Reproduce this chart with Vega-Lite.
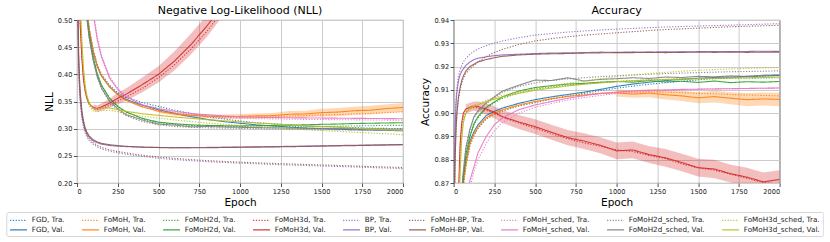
{
"$schema": "https://vega.github.io/schema/vega-lite/v6.json",
"padding": {"left": 5, "top": 4, "right": 0, "bottom": 0},
"spacing": 15.6,
"config": {
  "font": "DejaVu Sans",
  "view": {"stroke": "#262626", "strokeWidth": 0.9},
  "axis": {"domain": false, "grid": true, "gridColor": "#cbcbcb", "gridWidth": 1, "tickColor": "#262626", "tickSize": 3.5, "tickWidth": 0.8, "labelFont": "DejaVu Sans", "labelFontSize": 6.6, "labelColor": "#1a1a1a", "labelPadding": 1.5, "titleFont": "DejaVu Sans", "titleFontSize": 10.5, "titleFontWeight": "normal", "titleColor": "#000", "titlePadding": 3},
  "title": {"font": "DejaVu Sans", "fontSize": 11, "fontWeight": "normal", "offset": 1, "color": "#000"},
  "legend": {"labelFont": "DejaVu Sans", "labelFontSize": 7.2, "labelColor": "#1a1a1a", "symbolType": "M-1,0H3", "symbolSize": 72, "symbolStrokeWidth": 1.2, "labelOffset": 12.5, "columnPadding": 14, "rowPadding": 0.8, "padding": 3, "strokeColor": "#d5d5d5", "cornerRadius": 2, "fillColor": "#ffffff", "orient": "none", "direction": "horizontal", "columns": 9, "legendX": -70.7, "legendY": 192}
},
"resolve": {"scale": {"color": "shared", "strokeDash": "shared"}},
"hconcat": [
{
  "width": 326, "height": 163,
  "title": "Negative Log-Likelihood (NLL)",
  "data": {"values": [
{"ep":0,"aT":1.2,"aV":1.2,"bT":1.2,"bV":1.2,"cT":1.2,"cV":1.2,"dT":1.0,"dV":1.0,"eT":0.9,"eV":0.9,"fT":0.95,"fV":0.95,"gT":1.3,"gV":1.3,"hT":1.2,"hV":1.2,"iT":1.0,"iV":1.0},
{"ep":5,"aT":1.05,"aV":1.05,"bT":1.05,"bV":1.05,"cT":1.05,"cV":1.05,"dT":0.8,"dV":0.8,"eT":0.5,"eV":0.51,"fT":0.54,"fV":0.55,"gT":1.2,"gV":1.2,"hT":1.05,"hV":1.05,"iT":0.85,"iV":0.85},
{"ep":10,"aT":0.95,"aV":0.95,"bT":0.95,"bV":0.95,"cT":0.94,"cV":0.94,"dT":0.65,"dV":0.65,"eT":0.41,"eV":0.42,"fT":0.43,"fV":0.44,"gT":1.1,"gV":1.1,"hT":0.94,"hV":0.94,"iT":0.7,"iV":0.7},
{"ep":15,"aT":0.87,"aV":0.87,"bT":0.87,"bV":0.87,"cT":0.86,"cV":0.86,"dT":0.55,"dV":0.55,"eT":0.37,"eV":0.38,"fT":0.385,"fV":0.395,"gT":1.02,"gV":1.02,"hT":0.86,"hV":0.86,"iT":0.6,"iV":0.6},
{"ep":20,"aT":0.8,"aV":0.8,"bT":0.8,"bV":0.8,"cT":0.79,"cV":0.79,"dT":0.49,"dV":0.49,"eT":0.345,"eV":0.355,"fT":0.357,"fV":0.367,"gT":0.95,"gV":0.95,"hT":0.79,"hV":0.79,"iT":0.53,"iV":0.53},
{"ep":30,"aT":0.69,"aV":0.69,"bT":0.69,"bV":0.69,"cT":0.68,"cV":0.68,"dT":0.43,"dV":0.43,"eT":0.318,"eV":0.325,"fT":0.326,"fV":0.333,"gT":0.85,"gV":0.85,"hT":0.68,"hV":0.68,"iT":0.455,"iV":0.46},
{"ep":40,"aT":0.61,"aV":0.61,"bT":0.61,"bV":0.61,"cT":0.6,"cV":0.6,"dT":0.39,"dV":0.39,"eT":0.303,"eV":0.309,"fT":0.309,"fV":0.314,"gT":0.77,"gV":0.77,"hT":0.6,"hV":0.6,"iT":0.405,"iV":0.41},
{"ep":50,"aT":0.555,"aV":0.55,"bT":0.555,"bV":0.555,"cT":0.545,"cV":0.545,"dT":0.368,"dV":0.37,"eT":0.292,"eV":0.298,"fT":0.297,"fV":0.302,"gT":0.7,"gV":0.7,"hT":0.54,"hV":0.54,"iT":0.375,"iV":0.38},
{"ep":60,"aT":0.52,"aV":0.515,"bT":0.52,"bV":0.52,"cT":0.51,"cV":0.51,"dT":0.355,"dV":0.357,"eT":0.285,"eV":0.291,"fT":0.289,"fV":0.294,"gT":0.645,"gV":0.645,"hT":0.505,"hV":0.505,"iT":0.357,"iV":0.362},
{"ep":75,"aT":0.485,"aV":0.48,"bT":0.483,"bV":0.483,"cT":0.472,"cV":0.472,"dT":0.344,"dV":0.346,"eT":0.278,"eV":0.284,"fT":0.281,"fV":0.2865,"gT":0.585,"gV":0.585,"hT":0.467,"hV":0.467,"iT":0.342,"iV":0.347},
{"ep":100,"aT":0.445,"aV":0.44,"bT":0.442,"bV":0.442,"cT":0.43,"cV":0.43,"dT":0.337,"dV":0.339,"eT":0.271,"eV":0.2775,"fT":0.274,"fV":0.2795,"gT":0.515,"gV":0.51,"hT":0.425,"hV":0.425,"iT":0.332,"iV":0.337,"rl":0.334,"rh":0.344},
{"ep":125,"aT":0.418,"aV":0.414,"bT":0.415,"bV":0.415,"cT":0.4,"cV":0.4,"dT":0.335,"dV":0.337,"eT":0.2665,"eV":0.274,"fT":0.269,"fV":0.2755,"gT":0.468,"gV":0.463,"hT":0.395,"hV":0.395,"iT":0.331,"iV":0.336,"rl":0.331,"rh":0.343},
{"ep":150,"aT":0.4,"aV":0.397,"bT":0.398,"bV":0.398,"cT":0.38,"cV":0.38,"dT":0.337,"dV":0.34,"eT":0.263,"eV":0.2715,"fT":0.2655,"fV":0.273,"gT":0.436,"gV":0.432,"hT":0.374,"hV":0.375,"iT":0.333,"iV":0.338,"rl":0.333,"rh":0.347},
{"ep":200,"aT":0.38,"aV":0.377,"bT":0.377,"bV":0.377,"cT":0.356,"cV":0.356,"dT":0.343,"dV":0.347,"eT":0.2585,"eV":0.269,"fT":0.261,"fV":0.2705,"gT":0.396,"gV":0.393,"hT":0.349,"hV":0.351,"iT":0.334,"iV":0.338,"rl":0.338,"rh":0.355},
{"ep":250,"aT":0.366,"aV":0.363,"bT":0.363,"bV":0.363,"cT":0.341,"cV":0.341,"dT":0.351,"dV":0.356,"eT":0.2555,"eV":0.2678,"fT":0.258,"fV":0.2688,"gT":0.374,"gV":0.372,"hT":0.334,"hV":0.337,"iT":0.331,"iV":0.335,"rl":0.345,"rh":0.366},
{"ep":300,"aT":0.358,"aV":0.354,"bT":0.353,"bV":0.352,"cT":0.331,"cV":0.331,"dT":0.358,"dV":0.363,"eT":0.253,"eV":0.267,"fT":0.2555,"fV":0.2675,"gT":0.36,"gV":0.359,"hT":0.324,"hV":0.326,"iT":0.328,"iV":0.332,"rl":0.351,"rh":0.374},
{"ep":400,"aT":0.348,"aV":0.343,"bT":0.341,"bV":0.34,"cT":0.318,"cV":0.319,"dT":0.374,"dV":0.381,"eT":0.249,"eV":0.266,"fT":0.2512,"fV":0.266,"gT":0.344,"gV":0.344,"hT":0.313,"hV":0.316,"iT":0.323,"iV":0.3275,"rl":0.367,"rh":0.394},
{"ep":500,"aT":0.341,"aV":0.335,"bT":0.333,"bV":0.332,"cT":0.311,"cV":0.312,"dT":0.394,"dV":0.4,"eT":0.2455,"eV":0.2655,"fT":0.2478,"fV":0.2652,"gT":0.336,"gV":0.337,"hT":0.307,"hV":0.3085,"iT":0.3195,"iV":0.3245,"rl":0.385,"rh":0.415,"ol":0.329,"oh":0.335},
{"ep":600,"aT":0.334,"aV":0.328,"bT":0.328,"bV":0.327,"cT":0.308,"cV":0.309,"dT":0.418,"dV":0.425,"eT":0.243,"eV":0.265,"fT":0.2452,"fV":0.2648,"gT":0.33,"gV":0.332,"hT":0.304,"hV":0.3065,"iT":0.316,"iV":0.3215,"rl":0.408,"rh":0.443,"ol":0.324,"oh":0.33},
{"ep":700,"aT":0.328,"aV":0.322,"bT":0.325,"bV":0.3245,"cT":0.306,"cV":0.307,"dT":0.447,"dV":0.455,"eT":0.241,"eV":0.2652,"fT":0.243,"fV":0.2648,"gT":0.326,"gV":0.328,"hT":0.3025,"hV":0.3035,"iT":0.313,"iV":0.319,"rl":0.437,"rh":0.475,"ol":0.321,"oh":0.328},
{"ep":800,"aT":0.322,"aV":0.317,"bT":0.323,"bV":0.323,"cT":0.305,"cV":0.306,"dT":0.48,"dV":0.49,"eT":0.2392,"eV":0.2655,"fT":0.2412,"fV":0.265,"gT":0.323,"gV":0.3255,"hT":0.3015,"hV":0.304,"iT":0.3105,"iV":0.3165,"rl":0.47,"rh":0.51,"ol":0.319,"oh":0.327},
{"ep":900,"aT":0.318,"aV":0.313,"bT":0.322,"bV":0.322,"cT":0.304,"cV":0.3055,"dT":0.52,"dV":0.53,"eT":0.2378,"eV":0.266,"fT":0.2397,"fV":0.2653,"gT":0.321,"gV":0.3235,"hT":0.301,"hV":0.303,"iT":0.308,"iV":0.3145,"rl":0.51,"rh":0.55,"ol":0.318,"oh":0.326},
{"ep":1000,"aT":0.314,"aV":0.31,"bT":0.321,"bV":0.3225,"cT":0.3035,"cV":0.305,"dT":0.56,"dV":0.57,"eT":0.2365,"eV":0.2663,"fT":0.2384,"fV":0.2657,"gT":0.3195,"gV":0.322,"hT":0.3005,"hV":0.3025,"iT":0.306,"iV":0.3125,"rl":0.55,"rh":0.59,"ol":0.318,"oh":0.327},
{"ep":1100,"aT":0.311,"aV":0.307,"bT":0.3215,"bV":0.3235,"cT":0.303,"cV":0.3055,"dT":0.6,"dV":0.61,"eT":0.2353,"eV":0.2667,"fT":0.2372,"fV":0.266,"gT":0.3185,"gV":0.321,"hT":0.3,"hV":0.302,"iT":0.304,"iV":0.3105,"ol":0.3185,"oh":0.328},
{"ep":1200,"aT":0.309,"aV":0.305,"bT":0.322,"bV":0.324,"cT":0.3032,"cV":0.306,"dT":0.64,"dV":0.65,"eT":0.2342,"eV":0.267,"fT":0.2361,"fV":0.2664,"gT":0.318,"gV":0.3205,"hT":0.2995,"hV":0.3015,"iT":0.302,"iV":0.309,"ol":0.319,"oh":0.329},
{"ep":1300,"aT":0.307,"aV":0.303,"bT":0.323,"bV":0.3265,"cT":0.3035,"cV":0.3065,"dT":0.68,"dV":0.69,"eT":0.2332,"eV":0.2675,"fT":0.2351,"fV":0.2668,"gT":0.3175,"gV":0.32,"hT":0.299,"hV":0.301,"iT":0.3,"iV":0.307,"ol":0.3205,"oh":0.3325},
{"ep":1400,"aT":0.305,"aV":0.301,"bT":0.324,"bV":0.327,"cT":0.304,"cV":0.307,"dT":0.72,"dV":0.73,"eT":0.2322,"eV":0.268,"fT":0.2341,"fV":0.2673,"gT":0.317,"gV":0.3198,"hT":0.2985,"hV":0.301,"iT":0.298,"iV":0.3055,"ol":0.321,"oh":0.333},
{"ep":1500,"aT":0.304,"aV":0.3,"bT":0.325,"bV":0.3295,"cT":0.304,"cV":0.308,"dT":0.76,"dV":0.77,"eT":0.2313,"eV":0.2685,"fT":0.2332,"fV":0.2678,"gT":0.3168,"gV":0.3195,"hT":0.298,"hV":0.3005,"iT":0.2965,"iV":0.304,"ol":0.3225,"oh":0.3365},
{"ep":1600,"aT":0.303,"aV":0.299,"bT":0.326,"bV":0.3305,"cT":0.3045,"cV":0.3085,"dT":0.8,"dV":0.81,"eT":0.2304,"eV":0.269,"fT":0.2323,"fV":0.2683,"gT":0.3165,"gV":0.3193,"hT":0.2978,"hV":0.3,"iT":0.295,"iV":0.3025,"ol":0.323,"oh":0.338},
{"ep":1700,"aT":0.302,"aV":0.298,"bT":0.327,"bV":0.333,"cT":0.305,"cV":0.3095,"dT":0.84,"dV":0.85,"eT":0.2295,"eV":0.2695,"fT":0.2313,"fV":0.2688,"gT":0.3163,"gV":0.319,"hT":0.2975,"hV":0.3,"iT":0.2935,"iV":0.301,"ol":0.3255,"oh":0.3405},
{"ep":1800,"aT":0.301,"aV":0.2975,"bT":0.328,"bV":0.334,"cT":0.3055,"cV":0.31,"dT":0.88,"dV":0.89,"eT":0.2285,"eV":0.27,"fT":0.2303,"fV":0.2693,"gT":0.316,"gV":0.3188,"hT":0.2972,"hV":0.2998,"iT":0.292,"iV":0.2995,"ol":0.326,"oh":0.342},
{"ep":1900,"aT":0.3005,"aV":0.297,"bT":0.3295,"bV":0.337,"cT":0.306,"cV":0.3105,"dT":0.92,"dV":0.93,"eT":0.2275,"eV":0.2705,"fT":0.2294,"fV":0.2698,"gT":0.3158,"gV":0.3185,"hT":0.297,"hV":0.2995,"iT":0.2905,"iV":0.298,"ol":0.329,"oh":0.345},
{"ep":2000,"aT":0.3,"aV":0.296,"bT":0.331,"bV":0.339,"cT":0.306,"cV":0.311,"dT":0.96,"dV":0.97,"eT":0.2265,"eV":0.271,"fT":0.2285,"fV":0.2703,"gT":0.3155,"gV":0.3183,"hT":0.2968,"hV":0.2993,"iT":0.289,"iV":0.2965,"ol":0.331,"oh":0.347}
  ]},
  "encoding": {
    "x": {"field": "ep", "type": "quantitative", "title": "Epoch", "scale": {"domain": [0, 2000], "nice": false}, "axis": {"values": [0, 250, 500, 750, 1000, 1250, 1500, 1750, 2000], "format": "d"}}
  },
  "layer": [
    {"mark": {"type": "area", "clip": true, "color": "#d62728", "opacity": 0.3}, "encoding": {"y": {"field": "rl", "type": "quantitative", "title": "NLL", "scale": {"domain": [0.2, 0.5], "nice": false, "zero": false}, "axis": {"values": [0.2, 0.25, 0.3, 0.35, 0.4, 0.45, 0.5], "format": ".2f"}}, "y2": {"field": "rh"}}},
    {"mark": {"type": "area", "clip": true, "color": "#ff7f0e", "opacity": 0.3}, "encoding": {"y": {"field": "ol", "type": "quantitative", "title": "NLL", "scale": {"domain": [0.2, 0.5], "nice": false, "zero": false}, "axis": {"values": [0.2, 0.25, 0.3, 0.35, 0.4, 0.45, 0.5], "format": ".2f"}}, "y2": {"field": "oh"}}},
    {
      "transform": [
        {"fold": ["aT","aV","bT","bV","cT","cV","dT","dV","eT","eV","fT","fV","gT","gV","hT","hV","iT","iV"], "as": ["k", "v"]},
        {"lookup": "k", "from": {"data": {"values": [
          {"k":"aT","series":"FGD, Tra."},{"k":"aV","series":"FGD, Val."},
          {"k":"bT","series":"FoMoH, Tra."},{"k":"bV","series":"FoMoH, Val."},
          {"k":"cT","series":"FoMoH2d, Tra."},{"k":"cV","series":"FoMoH2d, Val."},
          {"k":"dT","series":"FoMoH3d, Tra."},{"k":"dV","series":"FoMoH3d, Val."},
          {"k":"eT","series":"BP, Tra."},{"k":"eV","series":"BP, Val."},
          {"k":"fT","series":"FoMoH-BP, Tra."},{"k":"fV","series":"FoMoH-BP, Val."},
          {"k":"gT","series":"FoMoH_sched, Tra."},{"k":"gV","series":"FoMoH_sched, Val."},
          {"k":"hT","series":"FoMoH2d_sched, Tra."},{"k":"hV","series":"FoMoH2d_sched, Val."},
          {"k":"iT","series":"FoMoH3d_sched, Tra."},{"k":"iV","series":"FoMoH3d_sched, Val."}
        ]}, "key": "k", "fields": ["series"]}}
      ],
      "mark": {"type": "line", "clip": true, "strokeWidth": 1.1, "opacity": 0.9},
      "encoding": {
        "y": {"field": "v", "type": "quantitative", "title": "NLL", "scale": {"domain": [0.2, 0.5], "nice": false, "zero": false}, "axis": {"values": [0.2, 0.25, 0.3, 0.35, 0.4, 0.45, 0.5], "format": ".2f"}},
        "color": {"field": "series", "type": "nominal", "scale": {"domain": ["FGD, Tra.","FoMoH, Tra.","FoMoH2d, Tra.","FoMoH3d, Tra.","BP, Tra.","FoMoH-BP, Tra.","FoMoH_sched, Tra.","FoMoH2d_sched, Tra.","FoMoH3d_sched, Tra.","FGD, Val.","FoMoH, Val.","FoMoH2d, Val.","FoMoH3d, Val.","BP, Val.","FoMoH-BP, Val.","FoMoH_sched, Val.","FoMoH2d_sched, Val.","FoMoH3d_sched, Val."], "range": ["#1f77b4","#ff7f0e","#2ca02c","#d62728","#9467bd","#8c564b","#e377c2","#7f7f7f","#bcbd22","#1f77b4","#ff7f0e","#2ca02c","#d62728","#9467bd","#8c564b","#e377c2","#7f7f7f","#bcbd22"]}, "legend": {"title": null}},
        "strokeDash": {"field": "series", "type": "nominal", "scale": {"domain": ["FGD, Tra.","FoMoH, Tra.","FoMoH2d, Tra.","FoMoH3d, Tra.","BP, Tra.","FoMoH-BP, Tra.","FoMoH_sched, Tra.","FoMoH2d_sched, Tra.","FoMoH3d_sched, Tra.","FGD, Val.","FoMoH, Val.","FoMoH2d, Val.","FoMoH3d, Val.","BP, Val.","FoMoH-BP, Val.","FoMoH_sched, Val.","FoMoH2d_sched, Val.","FoMoH3d_sched, Val."], "range": [[1.2,1.6],[1.2,1.6],[1.2,1.6],[1.2,1.6],[1.2,1.6],[1.2,1.6],[1.2,1.6],[1.2,1.6],[1.2,1.6],[1,0],[1,0],[1,0],[1,0],[1,0],[1,0],[1,0],[1,0],[1,0]]}, "legend": {"title": null}}
      }
    }
  ]
},
{
  "width": 326, "height": 163,
  "title": "Accuracy",
  "data": {"values": [
{"ep":0,"aT":0.75,"aV":0.75,"bT":0.75,"bV":0.75,"cT":0.75,"cV":0.75,"dT":0.7,"dV":0.7,"eT":0.8,"eV":0.8,"fT":0.78,"fV":0.78,"gT":0.7,"gV":0.7,"hT":0.75,"hV":0.75,"iT":0.7,"iV":0.7},
{"ep":5,"aT":0.78,"aV":0.78,"bT":0.78,"bV":0.78,"cT":0.78,"cV":0.78,"dT":0.76,"dV":0.76,"eT":0.878,"eV":0.876,"fT":0.86,"fV":0.86,"gT":0.73,"gV":0.73,"hT":0.78,"hV":0.78,"iT":0.76,"iV":0.76},
{"ep":10,"aT":0.8,"aV":0.8,"bT":0.8,"bV":0.8,"cT":0.8,"cV":0.8,"dT":0.79,"dV":0.79,"eT":0.897,"eV":0.894,"fT":0.882,"fV":0.882,"gT":0.75,"gV":0.75,"hT":0.8,"hV":0.8,"iT":0.79,"iV":0.79},
{"ep":15,"aT":0.815,"aV":0.815,"bT":0.815,"bV":0.815,"cT":0.815,"cV":0.815,"dT":0.81,"dV":0.81,"eT":0.906,"eV":0.904,"fT":0.893,"fV":0.893,"gT":0.77,"gV":0.77,"hT":0.815,"hV":0.815,"iT":0.81,"iV":0.81},
{"ep":20,"aT":0.825,"aV":0.825,"bT":0.825,"bV":0.825,"cT":0.826,"cV":0.826,"dT":0.83,"dV":0.83,"eT":0.911,"eV":0.909,"fT":0.899,"fV":0.9,"gT":0.785,"gV":0.785,"hT":0.826,"hV":0.826,"iT":0.828,"iV":0.826},
{"ep":30,"aT":0.84,"aV":0.84,"bT":0.84,"bV":0.84,"cT":0.842,"cV":0.842,"dT":0.862,"dV":0.865,"eT":0.916,"eV":0.914,"fT":0.906,"fV":0.907,"gT":0.805,"gV":0.805,"hT":0.843,"hV":0.843,"iT":0.855,"iV":0.852},
{"ep":40,"aT":0.852,"aV":0.853,"bT":0.852,"bV":0.853,"cT":0.855,"cV":0.855,"dT":0.884,"dV":0.887,"eT":0.9185,"eV":0.9165,"fT":0.91,"fV":0.911,"gT":0.822,"gV":0.822,"hT":0.857,"hV":0.857,"iT":0.878,"iV":0.875},
{"ep":50,"aT":0.862,"aV":0.864,"bT":0.862,"bV":0.863,"cT":0.865,"cV":0.865,"dT":0.894,"dV":0.896,"eT":0.9205,"eV":0.918,"fT":0.913,"fV":0.914,"gT":0.835,"gV":0.836,"hT":0.867,"hV":0.867,"iT":0.891,"iV":0.889},
{"ep":60,"aT":0.869,"aV":0.871,"bT":0.869,"bV":0.87,"cT":0.873,"cV":0.873,"dT":0.898,"dV":0.9,"eT":0.922,"eV":0.919,"fT":0.915,"fV":0.916,"gT":0.845,"gV":0.847,"hT":0.875,"hV":0.875,"iT":0.897,"iV":0.896},
{"ep":75,"aT":0.877,"aV":0.879,"bT":0.877,"bV":0.878,"cT":0.882,"cV":0.882,"dT":0.9005,"dV":0.9018,"eT":0.9235,"eV":0.9205,"fT":0.917,"fV":0.918,"gT":0.856,"gV":0.858,"hT":0.885,"hV":0.885,"iT":0.9005,"iV":0.9,"rl":0.8998,"rh":0.9038},
{"ep":100,"aT":0.886,"aV":0.888,"bT":0.886,"bV":0.887,"cT":0.89,"cV":0.89,"dT":0.9018,"dV":0.9025,"eT":0.9253,"eV":0.922,"fT":0.919,"fV":0.92,"gT":0.868,"gV":0.871,"hT":0.893,"hV":0.893,"iT":0.9025,"iV":0.902,"rl":0.9005,"rh":0.9045},
{"ep":125,"aT":0.8905,"aV":0.892,"bT":0.8905,"bV":0.891,"cT":0.895,"cV":0.8955,"dT":0.9024,"dV":0.903,"eT":0.9266,"eV":0.923,"fT":0.9205,"fV":0.921,"gT":0.875,"gV":0.877,"hT":0.898,"hV":0.8985,"iT":0.9035,"iV":0.903,"rl":0.901,"rh":0.905},
{"ep":150,"aT":0.8935,"aV":0.895,"bT":0.8935,"bV":0.894,"cT":0.898,"cV":0.8985,"dT":0.9022,"dV":0.9028,"eT":0.9276,"eV":0.9236,"fT":0.922,"fV":0.922,"gT":0.88,"gV":0.883,"hT":0.9005,"hV":0.901,"iT":0.904,"iV":0.9035,"rl":0.9006,"rh":0.905},
{"ep":200,"aT":0.8975,"aV":0.899,"bT":0.8975,"bV":0.898,"cT":0.902,"cV":0.9025,"dT":0.9012,"dV":0.9018,"eT":0.929,"eV":0.9242,"fT":0.9243,"fV":0.923,"gT":0.887,"gV":0.89,"hT":0.904,"hV":0.9045,"iT":0.9055,"iV":0.905,"rl":0.8994,"rh":0.9042},
{"ep":250,"aT":0.8995,"aV":0.9008,"bT":0.8995,"bV":0.9,"cT":0.9045,"cV":0.9048,"dT":0.9,"dV":0.9004,"eT":0.9301,"eV":0.9247,"fT":0.926,"fV":0.9238,"gT":0.8925,"gV":0.895,"hT":0.9066,"hV":0.907,"iT":0.9066,"iV":0.906,"rl":0.8978,"rh":0.903},
{"ep":300,"aT":0.901,"aV":0.9022,"bT":0.901,"bV":0.9015,"cT":0.9063,"cV":0.907,"dT":0.8982,"dV":0.8985,"eT":0.931,"eV":0.925,"fT":0.9274,"fV":0.9244,"gT":0.896,"gV":0.898,"hT":0.9088,"hV":0.9095,"iT":0.9076,"iV":0.907,"rl":0.8958,"rh":0.9012},
{"ep":400,"aT":0.903,"aV":0.9042,"bT":0.9032,"bV":0.9035,"cT":0.9088,"cV":0.9095,"dT":0.8958,"dV":0.8962,"eT":0.9324,"eV":0.9253,"fT":0.9295,"fV":0.925,"gT":0.9,"gV":0.9015,"hT":0.9115,"hV":0.912,"iT":0.9092,"iV":0.9085,"rl":0.8932,"rh":0.8992},
{"ep":500,"aT":0.9045,"aV":0.9058,"bT":0.9048,"bV":0.905,"cT":0.9103,"cV":0.911,"dT":0.8935,"dV":0.8942,"eT":0.9335,"eV":0.9256,"fT":0.931,"fV":0.9253,"gT":0.9025,"gV":0.9035,"hT":0.913,"hV":0.9142,"iT":0.9105,"iV":0.9098,"rl":0.891,"rh":0.8974},
{"ep":600,"aT":0.906,"aV":0.907,"bT":0.9062,"bV":0.9062,"cT":0.9113,"cV":0.9118,"dT":0.8912,"dV":0.8918,"eT":0.9342,"eV":0.9258,"fT":0.932,"fV":0.9255,"gT":0.9042,"gV":0.905,"hT":0.914,"hV":0.914,"iT":0.9117,"iV":0.9108,"rl":0.8886,"rh":0.895},
{"ep":700,"aT":0.9073,"aV":0.908,"bT":0.9073,"bV":0.9072,"cT":0.912,"cV":0.9125,"dT":0.889,"dV":0.8895,"eT":0.9348,"eV":0.9259,"fT":0.9328,"fV":0.9256,"gT":0.9056,"gV":0.9064,"hT":0.9147,"hV":0.9152,"iT":0.9128,"iV":0.9117,"rl":0.8862,"rh":0.8928},
{"ep":800,"aT":0.9085,"aV":0.909,"bT":0.9081,"bV":0.9078,"cT":0.9126,"cV":0.9128,"dT":0.8872,"dV":0.888,"eT":0.9353,"eV":0.926,"fT":0.9335,"fV":0.9258,"gT":0.9067,"gV":0.9075,"hT":0.9152,"hV":0.9138,"iT":0.9138,"iV":0.9124,"rl":0.8846,"rh":0.8914},
{"ep":900,"aT":0.9097,"aV":0.9102,"bT":0.9086,"bV":0.9085,"cT":0.9131,"cV":0.9133,"dT":0.8858,"dV":0.8862,"eT":0.9357,"eV":0.9262,"fT":0.934,"fV":0.9259,"gT":0.9076,"gV":0.9084,"hT":0.9157,"hV":0.9145,"iT":0.9148,"iV":0.913,"rl":0.8828,"rh":0.8896},
{"ep":1000,"aT":0.9107,"aV":0.9115,"bT":0.909,"bV":0.9087,"cT":0.9136,"cV":0.9136,"dT":0.8842,"dV":0.8838,"eT":0.9361,"eV":0.9261,"fT":0.9345,"fV":0.926,"gT":0.9084,"gV":0.909,"hT":0.9161,"hV":0.9148,"iT":0.9157,"iV":0.9135,"rl":0.8802,"rh":0.8874,"ol":0.9072,"oh":0.9102},
{"ep":1100,"aT":0.9116,"aV":0.9125,"bT":0.9091,"bV":0.9082,"cT":0.914,"cV":0.9133,"dT":0.8835,"dV":0.8842,"eT":0.9364,"eV":0.9263,"fT":0.935,"fV":0.926,"gT":0.909,"gV":0.9095,"hT":0.9164,"hV":0.9152,"iT":0.9164,"iV":0.9139,"rl":0.8806,"rh":0.8878,"ol":0.9066,"oh":0.9098},
{"ep":1200,"aT":0.9124,"aV":0.9133,"bT":0.9091,"bV":0.9086,"cT":0.9143,"cV":0.914,"dT":0.8818,"dV":0.8822,"eT":0.9367,"eV":0.9262,"fT":0.9355,"fV":0.9261,"gT":0.9094,"gV":0.9098,"hT":0.9167,"hV":0.9149,"iT":0.917,"iV":0.9142,"rl":0.8786,"rh":0.8858,"ol":0.9068,"oh":0.9104},
{"ep":1300,"aT":0.9131,"aV":0.914,"bT":0.909,"bV":0.9079,"cT":0.9145,"cV":0.9134,"dT":0.8805,"dV":0.8808,"eT":0.937,"eV":0.9264,"fT":0.9359,"fV":0.926,"gT":0.9097,"gV":0.91,"hT":0.917,"hV":0.9155,"iT":0.9175,"iV":0.9144,"rl":0.877,"rh":0.8846,"ol":0.9059,"oh":0.9099},
{"ep":1400,"aT":0.9137,"aV":0.9145,"bT":0.9088,"bV":0.9074,"cT":0.9147,"cV":0.9137,"dT":0.8782,"dV":0.8788,"eT":0.9372,"eV":0.9263,"fT":0.9362,"fV":0.9261,"gT":0.91,"gV":0.9102,"hT":0.9172,"hV":0.9153,"iT":0.918,"iV":0.9146,"rl":0.875,"rh":0.8826,"ol":0.9052,"oh":0.9096},
{"ep":1500,"aT":0.9143,"aV":0.915,"bT":0.9085,"bV":0.9066,"cT":0.9148,"cV":0.9132,"dT":0.8765,"dV":0.8766,"eT":0.9374,"eV":0.9264,"fT":0.9365,"fV":0.9262,"gT":0.9102,"gV":0.9103,"hT":0.9174,"hV":0.9158,"iT":0.9184,"iV":0.9148,"rl":0.8728,"rh":0.8804,"ol":0.9042,"oh":0.909},
{"ep":1600,"aT":0.9148,"aV":0.9153,"bT":0.9083,"bV":0.9071,"cT":0.9149,"cV":0.9138,"dT":0.8755,"dV":0.876,"eT":0.9376,"eV":0.9265,"fT":0.9368,"fV":0.9261,"gT":0.9104,"gV":0.9104,"hT":0.9176,"hV":0.9156,"iT":0.9187,"iV":0.915,"rl":0.872,"rh":0.88,"ol":0.9046,"oh":0.9096},
{"ep":1700,"aT":0.9152,"aV":0.9155,"bT":0.908,"bV":0.9064,"cT":0.915,"cV":0.9131,"dT":0.8738,"dV":0.874,"eT":0.9378,"eV":0.9264,"fT":0.9371,"fV":0.9262,"gT":0.9105,"gV":0.9105,"hT":0.9178,"hV":0.916,"iT":0.919,"iV":0.9151,"rl":0.8702,"rh":0.8778,"ol":0.9038,"oh":0.909},
{"ep":1800,"aT":0.9156,"aV":0.9158,"bT":0.9078,"bV":0.9058,"cT":0.915,"cV":0.9135,"dT":0.872,"dV":0.8725,"eT":0.938,"eV":0.9265,"fT":0.9373,"fV":0.9261,"gT":0.9106,"gV":0.9106,"hT":0.9179,"hV":0.9158,"iT":0.9192,"iV":0.9152,"rl":0.8685,"rh":0.8765,"ol":0.903,"oh":0.9086},
{"ep":1900,"aT":0.9159,"aV":0.916,"bT":0.9076,"bV":0.9061,"cT":0.9151,"cV":0.9133,"dT":0.8702,"dV":0.8705,"eT":0.9382,"eV":0.9266,"fT":0.9375,"fV":0.9262,"gT":0.9107,"gV":0.9107,"hT":0.918,"hV":0.9163,"iT":0.9194,"iV":0.9153,"rl":0.8665,"rh":0.8745,"ol":0.9033,"oh":0.9089},
{"ep":2000,"aT":0.9162,"aV":0.9162,"bT":0.9074,"bV":0.9059,"cT":0.9152,"cV":0.9136,"dT":0.8695,"dV":0.8715,"eT":0.9384,"eV":0.9265,"fT":0.9377,"fV":0.9262,"gT":0.9108,"gV":0.9108,"hT":0.9182,"hV":0.9165,"iT":0.9196,"iV":0.9155,"rl":0.8675,"rh":0.8755,"ol":0.903,"oh":0.9088}
  ]},
  "encoding": {
    "x": {"field": "ep", "type": "quantitative", "title": "Epoch", "scale": {"domain": [0, 2000], "nice": false}, "axis": {"values": [0, 250, 500, 750, 1000, 1250, 1500, 1750, 2000], "format": "d"}}
  },
  "layer": [
    {"mark": {"type": "area", "clip": true, "color": "#d62728", "opacity": 0.3}, "encoding": {"y": {"field": "rl", "type": "quantitative", "title": "Accuracy", "scale": {"domain": [0.87, 0.94], "nice": false, "zero": false}, "axis": {"values": [0.87, 0.88, 0.89, 0.9, 0.91, 0.92, 0.93, 0.94], "format": ".2f"}}, "y2": {"field": "rh"}}},
    {"mark": {"type": "area", "clip": true, "color": "#ff7f0e", "opacity": 0.3}, "encoding": {"y": {"field": "ol", "type": "quantitative", "title": "Accuracy", "scale": {"domain": [0.87, 0.94], "nice": false, "zero": false}, "axis": {"values": [0.87, 0.88, 0.89, 0.9, 0.91, 0.92, 0.93, 0.94], "format": ".2f"}}, "y2": {"field": "oh"}}},
    {
      "transform": [
        {"fold": ["aT","aV","bT","bV","cT","cV","dT","dV","eT","eV","fT","fV","gT","gV","hT","hV","iT","iV"], "as": ["k", "v"]},
        {"lookup": "k", "from": {"data": {"values": [
          {"k":"aT","series":"FGD, Tra."},{"k":"aV","series":"FGD, Val."},
          {"k":"bT","series":"FoMoH, Tra."},{"k":"bV","series":"FoMoH, Val."},
          {"k":"cT","series":"FoMoH2d, Tra."},{"k":"cV","series":"FoMoH2d, Val."},
          {"k":"dT","series":"FoMoH3d, Tra."},{"k":"dV","series":"FoMoH3d, Val."},
          {"k":"eT","series":"BP, Tra."},{"k":"eV","series":"BP, Val."},
          {"k":"fT","series":"FoMoH-BP, Tra."},{"k":"fV","series":"FoMoH-BP, Val."},
          {"k":"gT","series":"FoMoH_sched, Tra."},{"k":"gV","series":"FoMoH_sched, Val."},
          {"k":"hT","series":"FoMoH2d_sched, Tra."},{"k":"hV","series":"FoMoH2d_sched, Val."},
          {"k":"iT","series":"FoMoH3d_sched, Tra."},{"k":"iV","series":"FoMoH3d_sched, Val."}
        ]}, "key": "k", "fields": ["series"]}}
      ],
      "mark": {"type": "line", "clip": true, "strokeWidth": 1.1, "opacity": 0.9},
      "encoding": {
        "y": {"field": "v", "type": "quantitative", "title": "Accuracy", "scale": {"domain": [0.87, 0.94], "nice": false, "zero": false}, "axis": {"values": [0.87, 0.88, 0.89, 0.9, 0.91, 0.92, 0.93, 0.94], "format": ".2f"}},
        "color": {"field": "series", "type": "nominal", "scale": {"domain": ["FGD, Tra.","FoMoH, Tra.","FoMoH2d, Tra.","FoMoH3d, Tra.","BP, Tra.","FoMoH-BP, Tra.","FoMoH_sched, Tra.","FoMoH2d_sched, Tra.","FoMoH3d_sched, Tra.","FGD, Val.","FoMoH, Val.","FoMoH2d, Val.","FoMoH3d, Val.","BP, Val.","FoMoH-BP, Val.","FoMoH_sched, Val.","FoMoH2d_sched, Val.","FoMoH3d_sched, Val."], "range": ["#1f77b4","#ff7f0e","#2ca02c","#d62728","#9467bd","#8c564b","#e377c2","#7f7f7f","#bcbd22","#1f77b4","#ff7f0e","#2ca02c","#d62728","#9467bd","#8c564b","#e377c2","#7f7f7f","#bcbd22"]}, "legend": {"title": null}},
        "strokeDash": {"field": "series", "type": "nominal", "scale": {"domain": ["FGD, Tra.","FoMoH, Tra.","FoMoH2d, Tra.","FoMoH3d, Tra.","BP, Tra.","FoMoH-BP, Tra.","FoMoH_sched, Tra.","FoMoH2d_sched, Tra.","FoMoH3d_sched, Tra.","FGD, Val.","FoMoH, Val.","FoMoH2d, Val.","FoMoH3d, Val.","BP, Val.","FoMoH-BP, Val.","FoMoH_sched, Val.","FoMoH2d_sched, Val.","FoMoH3d_sched, Val."], "range": [[1.2,1.6],[1.2,1.6],[1.2,1.6],[1.2,1.6],[1.2,1.6],[1.2,1.6],[1.2,1.6],[1.2,1.6],[1.2,1.6],[1,0],[1,0],[1,0],[1,0],[1,0],[1,0],[1,0],[1,0],[1,0]]}, "legend": {"title": null}}
      }
    }
  ]
}
]
}
